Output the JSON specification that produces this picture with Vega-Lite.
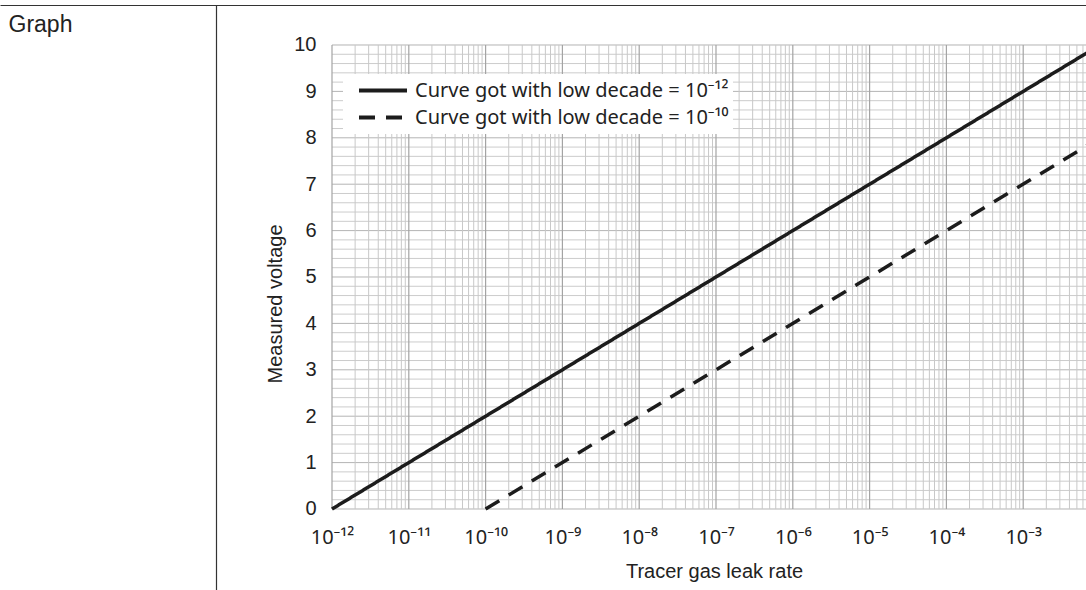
{
  "$schema": "https://vega.github.io/schema/vega-lite/v6.json",
  "width": 1086,
  "height": 585,
  "autosize": {"type": "none"},
  "padding": {"left": 0, "top": 5, "right": 0, "bottom": 0},
  "background": "white",
  "config": {
    "font": "Liberation Sans",
    "view": {"stroke": null},
    "axis": {"labelColor": "#222", "titleColor": "#222", "titleFontWeight": "normal"}
  },
  "datasets": {
    "curves": [
      {"curve": "Curve got with low decade = 10⁻¹²", "rate": 1e-12, "voltage": 0},
      {"curve": "Curve got with low decade = 10⁻¹²", "rate": 0.01, "voltage": 10},
      {"curve": "Curve got with low decade = 10⁻¹⁰", "rate": 1e-10, "voltage": 0},
      {"curve": "Curve got with low decade = 10⁻¹⁰", "rate": 0.01, "voltage": 8}
    ],
    "xmajor": [{"v": 1e-12}, {"v": 1e-11}, {"v": 1e-10}, {"v": 1e-9}, {"v": 1e-8}, {"v": 1e-7}, {"v": 1e-6}, {"v": 1e-5}, {"v": 1e-4}, {"v": 1e-3}],
    "xminor": [
      {"v": 2e-12}, {"v": 3e-12}, {"v": 4e-12}, {"v": 5e-12}, {"v": 6e-12}, {"v": 7e-12}, {"v": 8e-12}, {"v": 9e-12},
      {"v": 2e-11}, {"v": 3e-11}, {"v": 4e-11}, {"v": 5e-11}, {"v": 6e-11}, {"v": 7e-11}, {"v": 8e-11}, {"v": 9e-11},
      {"v": 2e-10}, {"v": 3e-10}, {"v": 4e-10}, {"v": 5e-10}, {"v": 6e-10}, {"v": 7e-10}, {"v": 8e-10}, {"v": 9e-10},
      {"v": 2e-9}, {"v": 3e-9}, {"v": 4e-9}, {"v": 5e-9}, {"v": 6e-9}, {"v": 7e-9}, {"v": 8e-9}, {"v": 9e-9},
      {"v": 2e-8}, {"v": 3e-8}, {"v": 4e-8}, {"v": 5e-8}, {"v": 6e-8}, {"v": 7e-8}, {"v": 8e-8}, {"v": 9e-8},
      {"v": 2e-7}, {"v": 3e-7}, {"v": 4e-7}, {"v": 5e-7}, {"v": 6e-7}, {"v": 7e-7}, {"v": 8e-7}, {"v": 9e-7},
      {"v": 2e-6}, {"v": 3e-6}, {"v": 4e-6}, {"v": 5e-6}, {"v": 6e-6}, {"v": 7e-6}, {"v": 8e-6}, {"v": 9e-6},
      {"v": 2e-5}, {"v": 3e-5}, {"v": 4e-5}, {"v": 5e-5}, {"v": 6e-5}, {"v": 7e-5}, {"v": 8e-5}, {"v": 9e-5},
      {"v": 2e-4}, {"v": 3e-4}, {"v": 4e-4}, {"v": 5e-4}, {"v": 6e-4}, {"v": 7e-4}, {"v": 8e-4}, {"v": 9e-4},
      {"v": 2e-3}, {"v": 3e-3}, {"v": 4e-3}, {"v": 5e-3}, {"v": 6e-3}, {"v": 7e-3}, {"v": 8e-3}, {"v": 9e-3}
    ],
    "ymajor": [{"v": 0}, {"v": 1}, {"v": 2}, {"v": 3}, {"v": 4}, {"v": 5}, {"v": 6}, {"v": 7}, {"v": 8}, {"v": 9}, {"v": 10}],
    "yminor": [
      {"v": 0.2}, {"v": 0.4}, {"v": 0.6}, {"v": 0.8},
      {"v": 1.2}, {"v": 1.4}, {"v": 1.6}, {"v": 1.8},
      {"v": 2.2}, {"v": 2.4}, {"v": 2.6}, {"v": 2.8},
      {"v": 3.2}, {"v": 3.4}, {"v": 3.6}, {"v": 3.8},
      {"v": 4.2}, {"v": 4.4}, {"v": 4.6}, {"v": 4.8},
      {"v": 5.2}, {"v": 5.4}, {"v": 5.6}, {"v": 5.8},
      {"v": 6.2}, {"v": 6.4}, {"v": 6.6}, {"v": 6.8},
      {"v": 7.2}, {"v": 7.4}, {"v": 7.6}, {"v": 7.8},
      {"v": 8.2}, {"v": 8.4}, {"v": 8.6}, {"v": 8.8},
      {"v": 9.2}, {"v": 9.4}, {"v": 9.6}, {"v": 9.8}
    ]
  },
  "layer": [
    {
      "data": {"name": "yminor"},
      "mark": {"type": "rule", "stroke": "#cccccc", "strokeWidth": 1, "clip": true},
      "encoding": {
        "y": {"field": "v", "type": "quantitative",
          "scale": {"domain": [-1.7457, 10.862], "nice": false, "zero": false},
          "axis": {"orient": "left", "offset": -332, "values": [0, 1, 2, 3, 4, 5, 6, 7, 8, 9, 10], "ticks": false, "domain": false, "grid": false,
            "labelPadding": 16, "labelFontSize": 20,
            "title": "Measured voltage", "titleFontSize": 20, "titleAngle": -90, "titleAlign": "center", "titleBaseline": "alphabetic", "titleX": -50.5, "titleY": 298.5}},
        "x": {"datum": 1e-12, "type": "quantitative", "scale": {"type": "log", "domain": [4.754e-17, 6.572e-3], "nice": false}, "axis": null},
        "x2": {"datum": 0.01}
      }
    },
    {
      "data": {"name": "ymajor"},
      "mark": {"type": "rule", "stroke": "#b4b4b4", "strokeWidth": 1, "clip": true},
      "encoding": {
        "y": {"field": "v", "type": "quantitative",
          "scale": {"domain": [-1.7457, 10.862], "nice": false, "zero": false},
          "axis": {"orient": "left", "offset": -216, "labels": false, "ticks": false, "grid": false, "domain": true, "domainColor": "#333", "domainWidth": 1.2, "title": null}},
        "x": {"datum": 1e-12, "type": "quantitative", "scale": {"type": "log", "domain": [4.754e-17, 6.572e-3], "nice": false}, "axis": null},
        "x2": {"datum": 0.01}
      }
    },
    {
      "data": {"name": "xminor"},
      "mark": {"type": "rule", "stroke": "#c8c8c8", "strokeWidth": 1, "clip": true},
      "encoding": {
        "x": {"field": "v", "type": "quantitative",
          "scale": {"type": "log", "domain": [4.754e-17, 6.572e-3], "nice": false},
          "axis": {"orient": "top", "offset": 0, "labels": false, "ticks": false, "grid": false, "domain": true, "domainColor": "#333", "domainWidth": 1.2,
            "title": "Graph", "titleFontSize": 23, "titleAngle": 0, "titleAlign": "left", "titleBaseline": "alphabetic", "titleX": 8, "titleY": 26.5}},
        "y": {"datum": 0, "type": "quantitative", "scale": {"domain": [-1.7457, 10.862], "nice": false, "zero": false}, "axis": null},
        "y2": {"datum": 10}
      }
    },
    {
      "data": {"name": "xmajor"},
      "mark": {"type": "rule", "stroke": "#a4a4a4", "strokeWidth": 1.2, "clip": true},
      "encoding": {
        "x": {"field": "v", "type": "quantitative",
          "scale": {"type": "log", "domain": [4.754e-17, 6.572e-3], "nice": false},
          "axis": {"orient": "bottom", "offset": -81, "values": [1e-12, 1e-11, 1e-10, 1e-9, 1e-8, 1e-7, 1e-6, 1e-5, 1e-4, 1e-3],
            "ticks": false, "domain": false, "grid": false, "labelPadding": 34, "labelBaseline": "alphabetic", "labelFont": "Noto Sans", "labelFontSize": 20, "labelFlush": false, "labelOverlap": false,
            "labelExpr": "datum.value < 3e-12 ? '10⁻¹²' : datum.value < 3e-11 ? '10⁻¹¹' : datum.value < 3e-10 ? '10⁻¹⁰' : datum.value < 3e-9 ? '10⁻⁹' : datum.value < 3e-8 ? '10⁻⁸' : datum.value < 3e-7 ? '10⁻⁷' : datum.value < 3e-6 ? '10⁻⁶' : datum.value < 3e-5 ? '10⁻⁵' : datum.value < 3e-4 ? '10⁻⁴' : datum.value < 3e-3 ? '10⁻³' : '10⁻²'",
            "title": "Tracer gas leak rate", "titleFontSize": 20, "titleAngle": 0, "titleAlign": "center", "titleBaseline": "alphabetic", "titleX": 714, "titleY": 68}},
        "y": {"datum": 0, "type": "quantitative", "scale": {"domain": [-1.7457, 10.862], "nice": false, "zero": false}, "axis": null},
        "y2": {"datum": 10}
      }
    },
    {
      "data": {"name": "curves"},
      "mark": {"type": "line", "stroke": "#1c1c1c", "strokeWidth": 3.5, "clip": true},
      "encoding": {
        "x": {"field": "rate", "type": "quantitative", "scale": {"type": "log", "domain": [4.754e-17, 6.572e-3], "nice": false}, "axis": null},
        "y": {"field": "voltage", "type": "quantitative", "scale": {"domain": [-1.7457, 10.862], "nice": false, "zero": false}, "axis": null},
        "strokeDash": {"field": "curve", "type": "nominal",
          "scale": {"domain": ["Curve got with low decade = 10⁻¹²", "Curve got with low decade = 10⁻¹⁰"], "range": [[1, 0], [16, 11]]},
          "legend": {"title": null, "orient": "none", "legendX": 343, "legendY": 69, "fillColor": "white", "padding": 4,
            "symbolType": "stroke", "symbolSize": 2304, "symbolStrokeWidth": 4, "symbolStrokeColor": "#1c1c1c", "symbolOffset": 10,
            "labelFont": "Noto Sans", "labelFontSize": 20, "labelColor": "#222", "labelOffset": 6, "clipHeight": 25, "rowPadding": 2, "labelLimit": 0}}
      }
    }
  ],
  "resolve": {"axis": {"x": "independent", "y": "independent"}}
}
